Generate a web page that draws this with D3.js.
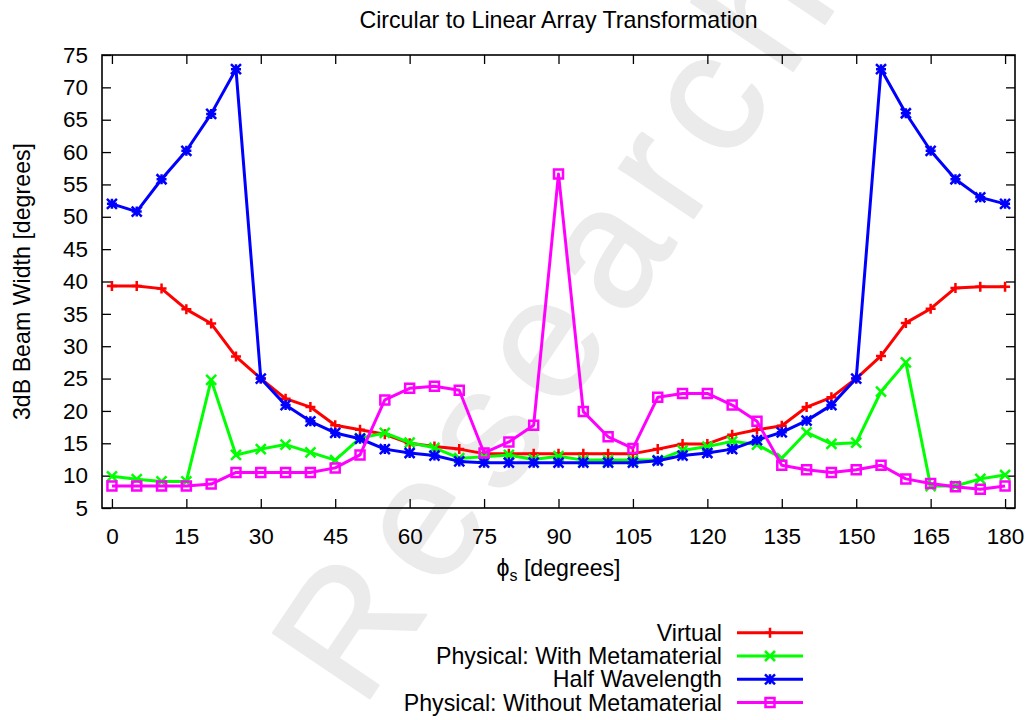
<!DOCTYPE html>
<html>
<head>
<meta charset="utf-8">
<script src="https://cdn.jsdelivr.net/npm/d3@7"></script>
<style>
  body { margin: 0; background: #fff; }
  svg { font-family: "Liberation Sans", Arial, sans-serif; }
</style>
</head>
<body>
<svg id="chart" width="1032" height="720"></svg>
<script>
// scan angle phi_s (degrees)
const phi = [0, 5, 10, 15, 20, 25, 30, 35, 40, 45, 50, 55, 60, 65, 70, 75, 80, 85, 90,
             95, 100, 105, 110, 115, 120, 125, 130, 135, 140, 145, 150, 155, 160, 165, 170, 175, 180];

const virtualBW = [39.3, 39.3, 38.9, 35.7, 33.5, 28.4, 25.0, 21.9, 20.6, 17.8, 17.1, 16.4, 15.0, 14.5, 14.1,
                   13.4, 13.4, 13.4, 13.4, 13.4, 13.4, 13.4, 14.1, 14.9, 14.9, 16.3, 17.1, 17.7, 20.6, 22.1,
                   25.0, 28.5, 33.6, 35.8, 39.0, 39.2, 39.2];
const withMetaBW = [9.9, 9.45, 9.1, 9.1, 24.8, 13.2, 14.1, 14.8, 13.6, 12.4, 15.8, 16.6, 15.1, 14.3, 12.7,
                    12.9, 13.2, 12.5, 13.0, 12.4, 12.4, 12.4, 12.4, 13.9, 14.5, 15.3, 14.8, 12.7, 16.7, 14.9,
                    15.1, 23.0, 27.5, 8.4, 8.4, 9.5, 10.1];
const halfWaveBW = [52.0, 50.8, 55.8, 60.2, 65.9, 72.8, 25.0, 20.9, 18.4, 16.6, 15.7, 14.1, 13.5, 13.1, 12.2,
                    12.0, 12.0, 12.0, 12.0, 12.0, 12.0, 12.0, 12.3, 13.1, 13.5, 14.1, 15.5, 16.7, 18.5, 20.9,
                    25.0, 72.8, 66.0, 60.2, 55.8, 53.0, 52.0];
const noMetaBW = [8.4, 8.4, 8.4, 8.4, 8.7, 10.5, 10.5, 10.5, 10.5, 11.2, 13.2, 21.7, 23.5, 23.8, 23.2,
                  13.5, 15.2, 17.8, 56.6, 19.9, 16.0, 14.2, 22.1, 22.7, 22.7, 20.9, 18.4, 11.6, 10.9, 10.5,
                  10.9, 11.6, 9.5, 8.8, 8.3, 7.9, 8.4];

const seriesNames = ["Virtual", "Physical: With Metamaterial", "Half Wavelength", "Physical: Without Metamaterial"];
const seriesValues = [virtualBW, withMetaBW, halfWaveBW, noMetaBW];
const seriesColors = ["#ff0000", "#00ff00", "#0000ff", "#ff00ff"];
const seriesMarks = ["plus", "cross", "star", "square"];

const xTicks = [0, 15, 30, 45, 60, 75, 90, 105, 120, 135, 150, 165, 180];
const yTicks = [5, 10, 15, 20, 25, 30, 35, 40, 45, 50, 55, 60, 65, 70, 75];

const svg = d3.select("#chart");
const plotL = 102, plotR = 1015, plotT = 55, plotB = 508;
const fontSize = 23.2;
const tickFont = 22.5;

const x = d3.scaleLinear().domain([-2, 182]).range([plotL, plotR]);
const y = d3.scaleLinear().domain([5, 75]).range([plotB, plotT]);

// light watermark behind everything
svg.append("text")
    .attr("transform", "translate(362,710) rotate(-56)")
    .attr("font-size", 170)
    .attr("letter-spacing", 18)
    .attr("fill", "#ebebeb")
    .attr("stroke", "#ebebeb")
    .attr("stroke-width", 2)
    .attr("stroke-linejoin", "round")
    .text("Research");

// title
svg.append("text")
    .attr("x", (plotL + plotR) / 2).attr("y", 28)
    .attr("text-anchor", "middle")
    .attr("font-size", fontSize)
    .text("Circular to Linear Array Transformation");

// axes (ticks point inward, mirrored on top/right)
const tickLen = 9;
const gAxes = svg.append("g");
gAxes.append("g").attr("transform", `translate(0,${plotB})`)
    .call(d3.axisBottom(x).tickValues(xTicks).tickSize(-tickLen).tickPadding(20));
gAxes.append("g").attr("transform", `translate(0,${plotT})`)
    .call(d3.axisTop(x).tickValues(xTicks).tickSize(-tickLen).tickFormat(""));
gAxes.append("g").attr("transform", `translate(${plotL},0)`)
    .call(d3.axisLeft(y).tickValues(yTicks).tickSize(-tickLen).tickPadding(14));
gAxes.append("g").attr("transform", `translate(${plotR},0)`)
    .call(d3.axisRight(y).tickValues(yTicks).tickSize(-tickLen).tickFormat(""));
gAxes.selectAll(".domain").remove();
gAxes.selectAll(".tick line").attr("stroke", "#000").attr("stroke-width", 1.3);
gAxes.selectAll("text").attr("font-size", tickFont).attr("font-family", "Liberation Sans, Arial, sans-serif").attr("fill", "#000");

svg.append("rect")
    .attr("x", plotL).attr("y", plotT)
    .attr("width", plotR - plotL).attr("height", plotB - plotT)
    .attr("fill", "none").attr("stroke", "#000").attr("stroke-width", 1.6);

// axis labels
const xl = svg.append("text")
    .attr("x", (plotL + plotR) / 2).attr("y", 576)
    .attr("text-anchor", "middle")
    .attr("font-size", fontSize);
xl.append("tspan").text("\u03d5");
xl.append("tspan").attr("dy", 5).attr("font-size", 16).text("s");
xl.append("tspan").attr("dy", -5).text(" [degrees]");

svg.append("text")
    .attr("transform", `translate(30,${(plotT + plotB) / 2}) rotate(-90)`)
    .attr("text-anchor", "middle")
    .attr("font-size", fontSize)
    .text("3dB Beam Width [degrees]");

function markPath(kind, s) {
    if (kind === "plus") return `M${-s},0H${s}M0,${-s}V${s}`;
    if (kind === "cross") return `M${-s},${-s}L${s},${s}M${-s},${s}L${s},${-s}`;
    if (kind === "star") return `M${-s},0H${s}M0,${-s}V${s}M${-s},${-s}L${s},${s}M${-s},${s}L${s},${-s}`;
    return `M${-s},${-s}H${s}V${s}H${-s}Z`;
}
const markSize = {plus: 5, cross: 5, star: 5, square: 4.5};

const line = d3.line().x((d, i) => x(phi[i])).y(d => y(d));
const gSeries = svg.append("g");
seriesValues.forEach((vals, k) => {
    const g = gSeries.append("g");
    g.append("path")
        .attr("d", line(vals))
        .attr("fill", "none")
        .attr("stroke", seriesColors[k])
        .attr("stroke-width", 3)
        .attr("stroke-linejoin", "round");
    g.selectAll("path.mark").data(vals).join("path")
        .attr("class", "mark")
        .attr("transform", (d, i) => `translate(${x(phi[i])},${y(d)})`)
        .attr("d", markPath(seriesMarks[k], markSize[seriesMarks[k]]))
        .attr("fill", "none")
        .attr("stroke", seriesColors[k])
        .attr("stroke-width", 2.5);
});

// legend
const legend = svg.append("g");
seriesNames.forEach((name, k) => {
    const ly = 632.7 + k * 23.3;
    legend.append("text")
        .attr("x", 722).attr("y", ly + 8)
        .attr("text-anchor", "end")
        .attr("font-size", fontSize)
        .text(name);
    legend.append("line")
        .attr("x1", 737).attr("x2", 803).attr("y1", ly).attr("y2", ly)
        .attr("stroke", seriesColors[k]).attr("stroke-width", 3);
    legend.append("path")
        .attr("transform", `translate(770,${ly})`)
        .attr("d", markPath(seriesMarks[k], markSize[seriesMarks[k]]))
        .attr("fill", "none")
        .attr("stroke", seriesColors[k])
        .attr("stroke-width", 2.5);
});
</script>
</body>
</html>
